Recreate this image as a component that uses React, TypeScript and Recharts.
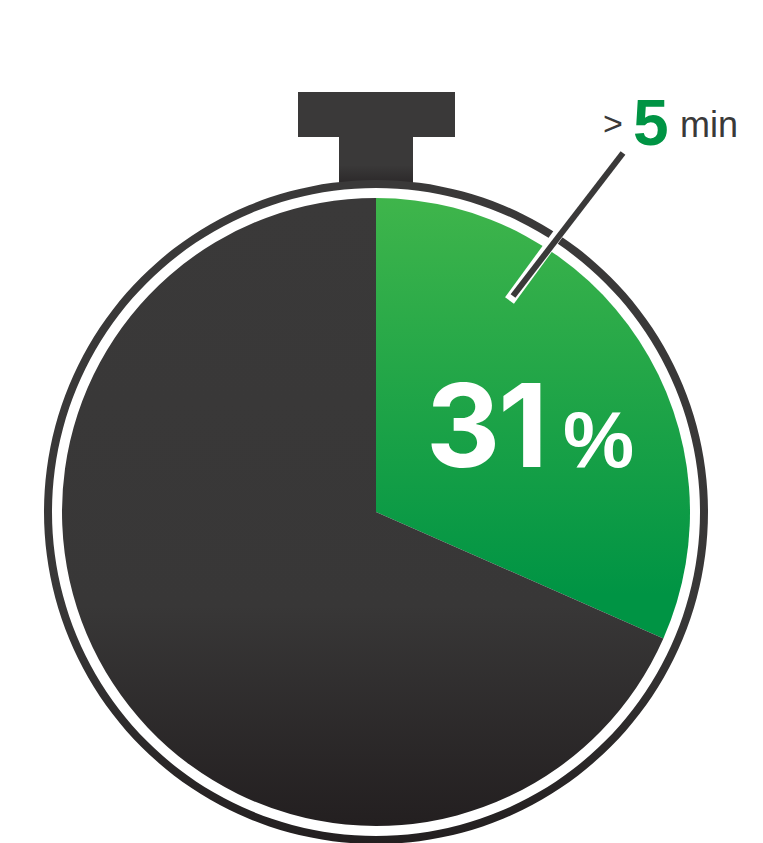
import { PieChart, Pie, Cell } from 'recharts';

const categories = ['> 5 min', '<= 5 min'];
const shares = [31.6, 68.4];
const sliceFills = ['url(#greenFade)', 'url(#darkFade)'];
const ringValues = [100];

const chartData = categories.map((name, i) => ({ name, value: shares[i] }));
const ringData = ringValues.map(value => ({ name: 'ring', value }));

const FONT = '"Liberation Sans", Arial, sans-serif';

export default function App() {
  return (
    <div style={{ position: 'absolute', left: 0, top: 0, width: 763, height: 843, overflow: 'hidden', background: '#fff' }}>
      <PieChart width={763} height={843} margin={{ top: 0, right: 0, bottom: 0, left: 0 }}>
        <defs>
          <linearGradient id="greenFade" x1="0" y1="0" x2="0" y2="1">
            <stop offset="0%" stopColor="#3fb54b" />
            <stop offset="90%" stopColor="#009444" />
            <stop offset="100%" stopColor="#009444" />
          </linearGradient>
          <linearGradient id="darkFade" x1="0" y1="0" x2="0" y2="1">
            <stop offset="0%" stopColor="#3a3939" />
            <stop offset="65%" stopColor="#383737" />
            <stop offset="100%" stopColor="#231f20" />
          </linearGradient>
          <linearGradient id="stemFade" x1="0" y1="0" x2="0" y2="1">
            <stop offset="0%" stopColor="#3a3939" />
            <stop offset="60%" stopColor="#3a3939" />
            <stop offset="100%" stopColor="#2b2829" />
          </linearGradient>
        </defs>

        {/* crown of the stopwatch */}
        <rect x={298} y={92} width={157} height={45} fill="#3a3939" />
        <rect x={339} y={137} width={74} height={47} fill="url(#stemFade)" />

        <Pie
          data={ringData}
          dataKey="value"
          cx={376}
          cy={512}
          innerRadius={324}
          outerRadius={332}
          startAngle={90}
          endAngle={-270}
          stroke="none"
          fill="url(#darkFade)"
          isAnimationActive={false}
        />
        <Pie
          data={chartData}
          dataKey="value"
          cx={376}
          cy={512}
          innerRadius={0}
          outerRadius={314}
          startAngle={90}
          endAngle={-270}
          stroke="none"
          isAnimationActive={false}
        >
          {chartData.map((d, i) => (
            <Cell key={d.name} fill={sliceFills[i]} />
          ))}
        </Pie>
      </PieChart>

      {/* pies always paint last, so the callout sits in its own layer on top */}
      <svg width={763} height={843} style={{ position: 'absolute', left: 0, top: 0, pointerEvents: 'none' }}>
        <line x1={572} y1={215} x2={509.5} y2={300.5} stroke="#fff" strokeWidth={11} />
        <line x1={623} y1={153} x2={513} y2={296} stroke="#3a3939" strokeWidth={6} />

        <text x={603} y={135} fontFamily={FONT} fontSize={34} fill="#3a3939">&gt;</text>
        <text x={633} y={145} fontFamily={FONT} fontSize={64} fontWeight={700} fill="#009444">5</text>
        <text x={680} y={137} fontFamily={FONT} fontSize={36} fill="#3a3939">min</text>

        <text x={426} y={467} fontFamily="Inter, sans-serif" fontSize={115} fontWeight={700} letterSpacing={-2} fill="#fff">31</text>
        <text x={563} y={467} fontFamily={FONT} fontSize={80} fontWeight={700} fill="#fff">%</text>
      </svg>
    </div>
  );
}
